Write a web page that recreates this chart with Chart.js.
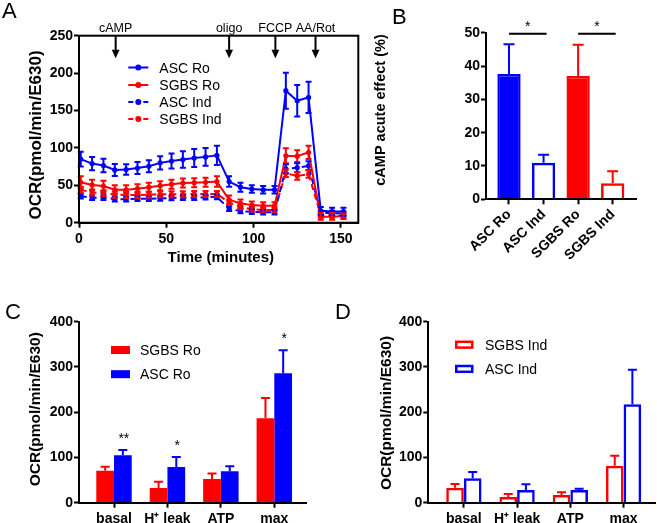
<!DOCTYPE html>
<html>
<head>
<meta charset="utf-8">
<script src="https://cdn.jsdelivr.net/npm/chart.js@4.4.0/dist/chart.umd.min.js"></script>
<style>
  body { margin: 0; background: #fff; }
  #page { position: relative; width: 657px; height: 523px; overflow: hidden; font-family: 'Liberation Sans', Arial, sans-serif; }
  .panel { position: absolute; }
  .letter { position: absolute; font-size: 22px; line-height: 22px; color: #000; }
</style>
</head>
<body>
<div id="page">
  <div class="panel" style="left:0;top:0;width:370px;height:268px"><canvas id="chartA"></canvas></div>
  <div class="panel" style="left:340px;top:0;width:317px;height:262px"><canvas id="chartB"></canvas></div>
  <div class="panel" style="left:0;top:262px;width:340px;height:261px"><canvas id="chartC"></canvas></div>
  <div class="panel" style="left:340px;top:262px;width:317px;height:261px"><canvas id="chartD"></canvas></div>
  <div class="letter" style="left:2px;top:-0.5px">A</div>
  <div class="letter" style="left:392px;top:6px">B</div>
  <div class="letter" style="left:5px;top:301px">C</div>
  <div class="letter" style="left:335px;top:301px">D</div>
</div>
<script>
const FONT = "'Liberation Sans', Arial, sans-serif";
Chart.defaults.font.family = FONT;
Chart.defaults.color = '#000';
Chart.defaults.animation = false;

const BLUE = '#0000ff';
const RED = '#ff0000';

// Panel A: OCR trace
const times = [1, 7.5, 14, 20.5, 27, 33.5, 40, 46.5, 53, 59.5, 66, 72.5, 79, 86, 92.5, 99, 105.5, 112, 118.5, 125, 131.5, 138.5, 145, 151.5];
const ascRo = [85, 79, 76.5, 70.5, 71, 73, 75.5, 80, 82.5, 84.5, 86.5, 88, 90, 55, 47.5, 45, 44, 44, 176.5, 163, 167.5, 16, 15, 15];
const ascRoErr = [10, 9, 9, 8, 7, 8, 8, 9, 10, 11, 12, 12, 13, 7, 6, 5, 5, 5, 24, 21, 21, 5, 5, 5];
const sgbsRo = [54, 50.5, 49, 44, 44, 45.5, 47.5, 49.5, 51.5, 53, 53.5, 54, 55, 30.5, 26, 23.5, 22.5, 22.5, 89.5, 89, 94, 8, 8, 9];
const sgbsRoErr = [8, 7, 7, 6, 6, 6, 6, 6, 6, 6, 6, 6, 7, 6, 5, 5, 5, 5, 10, 8, 9, 4, 4, 4];
const ascInd = [35.5, 33.5, 33.5, 31.5, 31.5, 32, 32, 32.5, 33, 33.5, 33.5, 34, 34.5, 18.5, 15.5, 14.5, 14, 14, 72, 73.5, 76, 13, 13, 12];
const ascIndErr = [3, 3, 3, 3, 3, 3, 3, 3, 3, 3, 3, 3, 3, 3, 3, 3, 3, 3, 6, 6, 6, 3, 3, 3];
const sgbsInd = [44, 40.5, 39.5, 37.5, 37, 37, 37.5, 38, 38, 38, 38.5, 38.5, 38.5, 27, 21, 18, 17, 17, 66, 62.5, 65, 10, 10, 9];
const sgbsIndErr = [4, 4, 4, 4, 4, 4, 4, 4, 4, 4, 4, 4, 4, 3, 3, 3, 3, 3, 5, 5, 5, 3, 3, 3];
const aXTicks = [0, 50, 100, 150];
const injNames = ['cAMP', 'oligo', 'FCCP', 'AA/Rot'];
const injTimes = [21, 86, 112.5, 135.5];

// Panel B: cAMP acute effect
const bCats = ['ASC Ro', 'ASC Ind', 'SGBS Ro', 'SGBS Ind'];
const bVals = [37.6, 11, 37, 4.8];
const bErr = [8.9, 2.4, 9.4, 3.6];
const bSig = [[0, 1], [2, 3]];

// Panels C and D: respiration parameters
const paramCats = ['basal', 'H\u207A leak', 'ATP', 'max'];
const cSgbsRo = [70.7, 32.5, 52.4, 186.5];
const cSgbsRoErr = [9, 14, 12, 45];
const cAscRo = [104.7, 79, 69.4, 286];
const cAscRoErr = [12, 22, 11, 51];
const cStars = ['**', '*', '', '*'];
const dSgbsInd = [33.2, 12.6, 17, 81.8];
const dSgbsIndErr = [8, 6.6, 6, 22];
const dAscInd = [53.9, 28, 28, 217.5];
const dAscIndErr = [14, 12.7, 3, 76.5];

const tickFont = { size: 14, weight: 'bold' };
const axisGrid = { display: true, drawOnChartArea: false, tickLength: 5, tickWidth: 2, tickColor: '#000', offset: false };
const axisBorder = { color: '#000', width: 2, z: 1 };

// error bars drawn from the dataset's own errs array
const errorBars = (cap, both) => ({
  id: 'errorBars',
  afterDatasetsDraw(chart) {
    const { ctx, scales: { y } } = chart;
    ctx.save();
    ctx.lineWidth = 2;
    ctx.setLineDash([]);
    chart.data.datasets.forEach((ds, di) => {
      chart.getDatasetMeta(di).data.forEach((el, i) => {
        const v = ds.data[i].y, e = ds.errs[i];
        const top = y.getPixelForValue(v + e);
        const bot = both ? y.getPixelForValue(v - e) : el.y;
        ctx.strokeStyle = Array.isArray(ds.borderColor) ? ds.borderColor[i] : ds.borderColor;
        ctx.beginPath();
        ctx.moveTo(el.x, top); ctx.lineTo(el.x, bot);
        ctx.moveTo(el.x - cap / 2, top); ctx.lineTo(el.x + cap / 2, top);
        if (both) { ctx.moveTo(el.x - cap / 2, bot); ctx.lineTo(el.x + cap / 2, bot); }
        ctx.stroke();
      });
    });
    ctx.restore();
  }
});

// free text (axis titles)
const texts = items => ({
  id: 'texts',
  afterDraw(chart) {
    const ctx = chart.ctx;
    items.forEach(t => {
      ctx.save();
      ctx.font = t.font + ' ' + FONT;
      ctx.fillStyle = '#000';
      ctx.textAlign = 'center';
      ctx.textBaseline = 'alphabetic';
      ctx.translate(t.x, t.y);
      if (t.rot) ctx.rotate(-Math.PI / 2);
      ctx.fillText(t.text, 0, 0);
      ctx.restore();
    });
  }
});

// legend keys
const keys = (items, x, textDx) => ({
  id: 'keys',
  afterDraw(chart) {
    const ctx = chart.ctx;
    ctx.save();
    items.forEach(k => {
      ctx.strokeStyle = k.color;
      ctx.fillStyle = k.color;
      if (k.kind === 'line') {
        ctx.lineWidth = 2;
        ctx.beginPath();
        if (k.dashed) {
          ctx.moveTo(x, k.y); ctx.lineTo(x + 5, k.y);
          ctx.moveTo(x + 15, k.y); ctx.lineTo(x + 20, k.y);
        } else {
          ctx.moveTo(x, k.y); ctx.lineTo(x + 20, k.y);
        }
        ctx.stroke();
        ctx.beginPath(); ctx.arc(x + 10, k.y, 3, 0, Math.PI * 2); ctx.fill();
      } else if (k.open) {
        ctx.lineWidth = 2.5;
        ctx.strokeRect(x + 1.25, k.y - 2.9, 16, 5.8);
      } else {
        ctx.fillRect(x, k.y - 4, 19, 8);
      }
      ctx.fillStyle = '#000';
      ctx.font = '14px ' + FONT;
      ctx.textBaseline = 'alphabetic';
      ctx.textAlign = 'left';
      ctx.fillText(k.text, x + textDx, k.y + 5);
    });
    ctx.restore();
  }
});

const boxFrame = {
  id: 'boxFrame',
  afterDraw(chart) {
    const { ctx, chartArea: a } = chart;
    ctx.save();
    ctx.strokeStyle = '#000';
    ctx.lineWidth = 2;
    ctx.strokeRect(a.left, a.top, a.right - a.left, a.bottom - a.top);
    ctx.restore();
  }
};

const injections = {
  id: 'injections',
  afterDraw(chart) {
    const { ctx, chartArea: a, scales } = chart;
    ctx.save();
    ctx.fillStyle = '#000';
    ctx.strokeStyle = '#000';
    ctx.lineWidth = 2;
    ctx.font = '12.5px ' + FONT;
    ctx.textAlign = 'center';
    injTimes.forEach((t, i) => {
      const x = scales.x.getPixelForValue(t);
      ctx.fillText(injNames[i], x, 31.5);
      ctx.beginPath(); ctx.moveTo(x, a.top); ctx.lineTo(x, a.top + 15); ctx.stroke();
      ctx.beginPath();
      ctx.moveTo(x - 3.9, a.top + 14); ctx.lineTo(x + 3.9, a.top + 14); ctx.lineTo(x, a.top + 22.5);
      ctx.closePath(); ctx.fill();
    });
    ctx.restore();
  }
};

function lineSet(label, vals, errs, color, dashed) {
  return {
    label, errs,
    data: times.map((t, i) => ({ x: t, y: vals[i] })),
    borderColor: color, backgroundColor: color,
    pointBackgroundColor: color, pointBorderColor: color,
    borderWidth: 2, borderDash: dashed ? [6, 4] : [],
    pointRadius: 2.6, pointBorderWidth: 0, tension: 0
  };
}

new Chart(document.getElementById('chartA'), {
  type: 'line',
  data: {
    datasets: [
      lineSet('ASC Ro', ascRo, ascRoErr, BLUE, false),
      lineSet('SGBS Ro', sgbsRo, sgbsRoErr, RED, false),
      lineSet('ASC Ind', ascInd, ascIndErr, BLUE, true),
      lineSet('SGBS Ind', sgbsInd, sgbsIndErr, RED, true)
    ]
  },
  options: {
    responsive: true, maintainAspectRatio: false, events: [],
    layout: { padding: { top: 35.7, right: 11.7, left: 0, bottom: 0 } },
    plugins: { legend: { display: false }, tooltip: { enabled: false } },
    scales: {
      x: {
        type: 'linear', min: 0, max: 160,
        afterBuildTicks: s => { s.ticks = aXTicks.map(v => ({ value: v })); },
        afterFit: s => { s.height = 45.3; },
        ticks: { font: tickFont, padding: 3 },
        grid: axisGrid, border: axisBorder
      },
      y: {
        min: 0, max: 250,
        afterFit: s => { s.width = 79; },
        ticks: { stepSize: 50, font: tickFont, padding: 1 },
        grid: axisGrid, border: axisBorder
      }
    }
  },
  plugins: [errorBars(6, true), boxFrame, injections,
    texts([
      { text: 'OCR(pmol/min/E630)', x: 41, y: 135, rot: true, font: 'bold 17px' },
      { text: 'Time (minutes)', x: 220.8, y: 262.3, font: 'bold 15px' }
    ]),
    keys([
      { kind: 'line', color: BLUE, text: 'ASC Ro', y: 67.5 },
      { kind: 'line', color: RED, text: 'SGBS Ro', y: 85 },
      { kind: 'line', color: BLUE, dashed: true, text: 'ASC Ind', y: 102 },
      { kind: 'line', color: RED, dashed: true, text: 'SGBS Ind', y: 119 }
    ], 128.3, 31)]
});

function barScales(cats, min, max, yMax, yStep, yWidth, xHeight, rot, xPad) {
  return {
    x: {
      type: 'linear', min, max, offset: false,
      afterBuildTicks: s => { s.ticks = cats.map((_, i) => ({ value: i })); },
      afterFit: s => { s.height = xHeight; },
      ticks: { callback: v => cats[v], autoSkip: false, minRotation: rot, maxRotation: rot, font: tickFont, padding: xPad },
      grid: axisGrid, border: axisBorder
    },
    y: {
      min: 0, max: yMax,
      afterFit: s => { s.width = yWidth; },
      ticks: { stepSize: yStep, font: tickFont, padding: 1 },
      grid: axisGrid, border: axisBorder
    }
  };
}

const sigBars = {
  id: 'sigBars',
  afterDraw(chart) {
    const { ctx, scales: { y } } = chart;
    const els = chart.getDatasetMeta(0).data;
    const ly = y.getPixelForValue(49.7);
    ctx.save();
    ctx.strokeStyle = '#000';
    ctx.fillStyle = '#000';
    ctx.lineWidth = 2;
    ctx.font = '14px ' + FONT;
    ctx.textAlign = 'center';
    bSig.forEach(([a, b]) => {
      const x1 = els[a].x, x2 = els[b].x + 3;
      ctx.beginPath(); ctx.moveTo(x1, ly); ctx.lineTo(x2, ly); ctx.stroke();
      ctx.fillText('*', (x1 + x2) / 2, ly - 3);
    });
    ctx.restore();
  }
};

new Chart(document.getElementById('chartB'), {
  type: 'bar',
  data: {
    datasets: [{
      errs: bErr,
      data: bVals.map((v, i) => ({ x: i, y: v })),
      backgroundColor: [BLUE, 'rgba(255,255,255,0)', RED, 'rgba(255,255,255,0)'],
      borderColor: [BLUE, BLUE, RED, RED],
      borderWidth: 2.5,
      barPercentage: 0.674, categoryPercentage: 1
    }]
  },
  options: {
    responsive: true, maintainAspectRatio: false, events: [],
    layout: { padding: { top: 32.7, right: 20.3, left: 0, bottom: 0 } },
    plugins: { legend: { display: false }, tooltip: { enabled: false } },
    scales: barScales(bCats, -0.665, 3.694, 50, 10, 146, 62.7, 45, 2)
  },
  plugins: [errorBars(11, false), sigBars,
    texts([{ text: 'cAMP acute effect (%)', x: 44.5, y: 110, rot: true, font: 'bold 14.5px' }])]
});

const starsC = {
  id: 'starsC',
  afterDraw(chart) {
    const { ctx, scales: { y } } = chart;
    const ds = chart.data.datasets[1];
    ctx.save();
    ctx.fillStyle = '#000';
    ctx.font = '14px ' + FONT;
    ctx.textAlign = 'center';
    chart.getDatasetMeta(1).data.forEach((el, i) => {
      const top = y.getPixelForValue(ds.data[i].y + ds.errs[i]);
      ctx.fillText(cStars[i], el.x + 1, top - 7);
    });
    ctx.restore();
  }
};

function pairSet(vals, errs, color, open) {
  return {
    errs,
    data: vals.map((v, i) => ({ x: i, y: v })),
    backgroundColor: open ? 'rgba(255,255,255,0)' : color,
    borderColor: color,
    borderWidth: open ? 2.5 : 0,
    barPercentage: 1, categoryPercentage: 0.663
  };
}

new Chart(document.getElementById('chartC'), {
  type: 'bar',
  data: { datasets: [pairSet(cSgbsRo, cSgbsRoErr, RED, false), pairSet(cAscRo, cAscRoErr, BLUE, false)] },
  options: {
    responsive: true, maintainAspectRatio: false, events: [],
    layout: { padding: { top: 59.7, right: 33.3, left: 0, bottom: 0 } },
    plugins: { legend: { display: false }, tooltip: { enabled: false } },
    scales: barScales(paramCats, -0.655, 3.606, 400, 100, 79, 20.3, 0, 3)
  },
  plugins: [errorBars(9, false), starsC,
    texts([{ text: 'OCR(pmol/min/E630)', x: 39.5, y: 147.2, rot: true, font: 'bold 15.5px' }]),
    keys([
      { kind: 'box', color: RED, text: 'SGBS Ro', y: 88 },
      { kind: 'box', color: BLUE, text: 'ASC Ro', y: 112.2 }
    ], 111, 29)]
});

new Chart(document.getElementById('chartD'), {
  type: 'bar',
  data: { datasets: [pairSet(dSgbsInd, dSgbsIndErr, RED, true), pairSet(dAscInd, dAscIndErr, BLUE, true)] },
  options: {
    responsive: true, maintainAspectRatio: false, events: [],
    layout: { padding: { top: 59.7, right: 1.5, left: 0, bottom: 0 } },
    plugins: { legend: { display: false }, tooltip: { enabled: false } },
    scales: barScales(paramCats, -0.668, 3.6, 400, 100, 88.3, 20.3, 0, 3)
  },
  plugins: [errorBars(9, false),
    texts([{ text: 'OCR(pmol/min/E630)', x: 51, y: 151, rot: true, font: 'bold 15.5px' }]),
    keys([
      { kind: 'box', open: true, color: RED, text: 'SGBS Ind', y: 82.7 },
      { kind: 'box', open: true, color: BLUE, text: 'ASC Ind', y: 106.9 }
    ], 115, 30)]
});
</script>
</body>
</html>
